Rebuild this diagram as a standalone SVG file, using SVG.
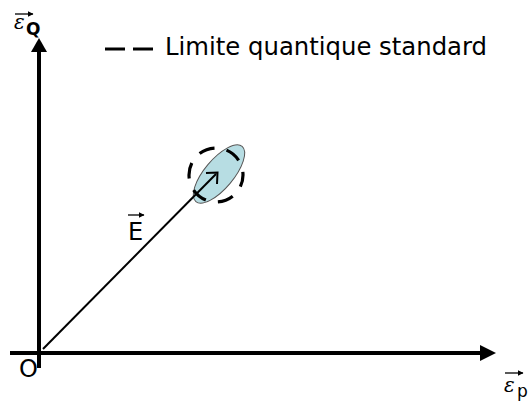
<svg xmlns="http://www.w3.org/2000/svg" width="528" height="407" viewBox="0 0 528 407">
<style>
.lbl{font-family:"DejaVu Sans","Liberation Sans",sans-serif;fill:#000}
.eps{font-family:"DejaVu Serif","Liberation Serif",serif;font-style:italic;fill:#000}
.axis{stroke:#000;stroke-width:4;fill:none}
.vec{stroke:#000;stroke-width:1.3;fill:none}
</style>
<defs>
<marker id="sm" markerWidth="6" markerHeight="6" refX="5.5" refY="3" orient="auto" markerUnits="userSpaceOnUse">
<path d="M0,0 L6,3 L0,6 Z" fill="#000"/>
</marker>
</defs>
<rect width="528" height="407" fill="#fff"/>
<g id="connectors">
<line class="axis" x1="39" y1="368" x2="39" y2="50"/>
<path d="M31,52 L39,38 L47,52 Z" fill="#000"/>
<line class="axis" x1="10" y1="353" x2="482" y2="353"/>
<path d="M480,345 L496,353 L480,361 Z" fill="#000"/>
</g>
<g id="uncertainty">
<ellipse cx="219" cy="174" rx="36" ry="14.5" transform="rotate(-50 219 174)" fill="#b7dde3" stroke="#555" stroke-width="1"/>
<circle cx="216" cy="175" r="27" fill="none" stroke="#000" stroke-width="3.2" stroke-dasharray="16 12.3" stroke-dashoffset="4"/>
</g>
<g id="vectorE">
<line x1="43" y1="349" x2="216" y2="174" stroke="#000" stroke-width="2"/>
<path d="M206,173 L217.5,172.5 L217,184" fill="none" stroke="#000" stroke-width="2"/>
<text class="lbl" x="128" y="240" font-size="24">E</text>
<line class="vec" x1="128" y1="215" x2="144" y2="215" marker-end="url(#sm)"/>
</g>
<g id="origin">
<text class="lbl" x="19" y="377" font-size="24">O</text>
</g>
<g id="labelQ">
<line class="vec" x1="15" y1="14" x2="33" y2="14" marker-end="url(#sm)"/>
<text class="eps" x="14" y="29" font-size="20">ε</text>
<text class="lbl" x="26" y="35" font-size="17" font-weight="bold">Q</text>
</g>
<g id="labelP">
<line class="vec" x1="505" y1="373" x2="523" y2="373" marker-end="url(#sm)"/>
<text class="eps" x="504" y="392" font-size="20">ε</text>
<text class="lbl" x="517" y="397" font-size="17">p</text>
</g>
<g id="legend">
<line x1="105" y1="49" x2="125" y2="49" stroke="#000" stroke-width="3"/>
<line x1="133" y1="49" x2="153" y2="49" stroke="#000" stroke-width="3"/>
<text class="lbl" x="165" y="55" font-size="25" textLength="322" lengthAdjust="spacingAndGlyphs">Limite quantique standard</text>
</g>
</svg>
